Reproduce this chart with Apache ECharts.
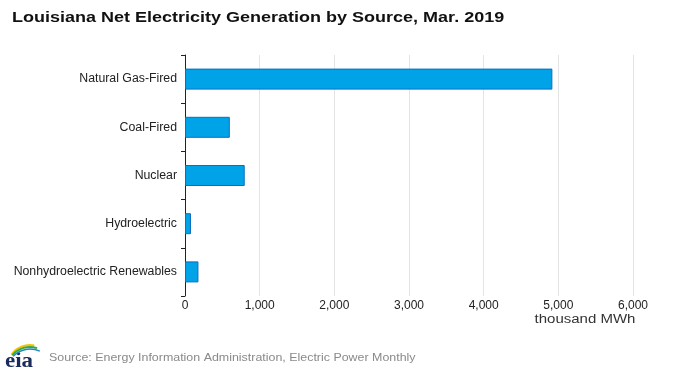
<!DOCTYPE html>
<html><head><meta charset="utf-8">
<script src="https://cdn.jsdelivr.net/npm/echarts@6/dist/echarts.min.js"></script>
<style>html,body{margin:0;padding:0;background:#fff}#c{width:679px;height:372px}</style>
</head><body><div id="c"></div>
<script>
const categories = ["Natural Gas-Fired","Coal-Fired","Nuclear","Hydroelectric","Nonhydroelectric Renewables"];
const values = [4920, 600, 800, 80, 180];
const xTicks = [0,1000,2000,3000,4000,5000,6000];
const titleText = "Louisiana Net Electricity Generation by Source, Mar. 2019";
const unitText = "thousand MWh";
const sourceText = "Source: Energy Information Administration, Electric Power Monthly";

const chart = echarts.init(document.getElementById('c'));
chart.setOption({
  animation:false,
  grid:{left:185,right:46,top:55,bottom:76},
  xAxis:{type:"value",min:xTicks[0],max:xTicks[xTicks.length-1],interval:1000,
    axisLine:{show:false},axisTick:{show:false},
    splitLine:{lineStyle:{color:"#e4e4e4",width:1}},
    axisLabel:{fontFamily:"Liberation Sans",fontSize:12,color:"#222",margin:4,
      formatter:v=>v.toLocaleString("en-US")}
  },
  yAxis:{type:"category",data:categories,inverse:true,
    axisLine:{lineStyle:{color:"#222",width:1}},
    axisTick:{show:true,length:4,lineStyle:{color:"#222"}},
    axisLabel:{fontFamily:"Liberation Sans",fontSize:12.3,color:"#222",margin:8}
  },
  series:[{type:"bar",data:values,barWidth:21,
    itemStyle:{color:"#00a2e8",borderColor:"#0a6fc0",borderWidth:1}}],
  graphic:[
    {type:"text",x:12,y:18,scaleX:1.2,originX:0,originY:0,
      style:{text:titleText,font:"bold 15px 'Liberation Sans'",fill:"#111",textVerticalAlign:"middle"}},
    {type:"text",x:585,y:320,scaleX:1.25,originX:0,originY:0,
      style:{text:unitText,font:"12px 'Liberation Sans'",fill:"#333",textAlign:"center",textVerticalAlign:"middle"}},
    {type:"text",x:5,y:362,scaleX:1.15,originX:0,originY:0,
      style:{text:"eia",font:"bold 20px 'Liberation Serif'",fill:"#1a2b5c",textVerticalAlign:"middle"}},
    {type:"arc",shape:{cx:30,cy:368,r:23,startAngle:-Math.PI*0.80,endAngle:-Math.PI*0.44},style:{stroke:"#f2c300",lineWidth:2,fill:null}},
    {type:"arc",shape:{cx:30,cy:370,r:23,startAngle:-Math.PI*0.78,endAngle:-Math.PI*0.40},style:{stroke:"#3aa935",lineWidth:2,fill:null}},
    {type:"arc",shape:{cx:30,cy:372,r:23,startAngle:-Math.PI*0.76,endAngle:-Math.PI*0.36},style:{stroke:"#1e88c8",lineWidth:1.5,fill:null}},
    {type:"text",x:49,y:358,scaleX:1.08,originX:0,originY:0,
      style:{text:sourceText,font:"11.5px 'Liberation Sans'",fill:"#8a8a8a",textVerticalAlign:"middle"}}
  ]
});
</script></body></html>
